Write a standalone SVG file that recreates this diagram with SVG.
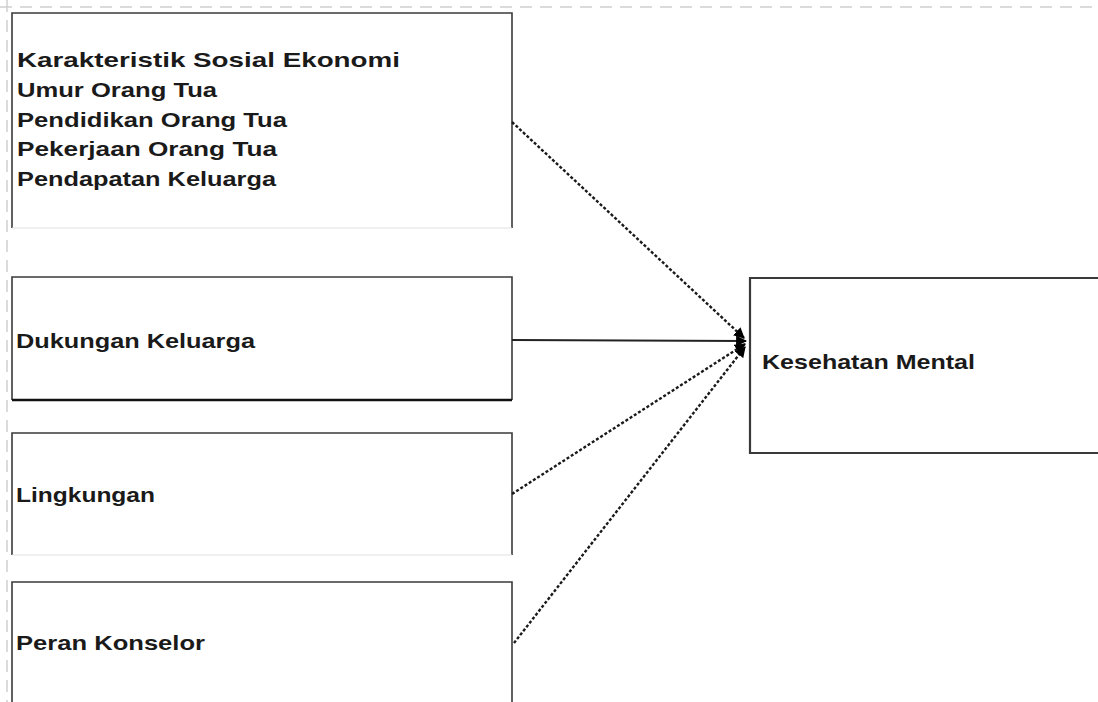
<svg xmlns="http://www.w3.org/2000/svg" width="1098" height="702" viewBox="0 0 1098 702">
<defs>
<marker id="arr" viewBox="0 0 10 10" refX="9" refY="5" markerWidth="11" markerHeight="11" orient="auto" markerUnits="userSpaceOnUse">
<path d="M0,0 L10,5 L0,10 z" fill="#000"/>
</marker>
<style>
.box{fill:#fff;stroke:#3a3a3a;stroke-width:1.6}
.lite{stroke:#e2e2e2;stroke-width:1.2}
.dark{stroke:#111;stroke-width:2.5}
.lbl{font-family:"Liberation Sans",Arial,sans-serif;font-size:21px;font-weight:bold;fill:#1a1a1a}
.guide{stroke:#d0d0d0;stroke-width:1.5;stroke-dasharray:12 8;fill:none}
.dash{stroke:#1a1a1a;stroke-width:2.4;stroke-dasharray:3 2;fill:none;marker-end:url(#arr)}
.solid{stroke:#222;stroke-width:2;fill:none;marker-end:url(#arr)}
</style>
</defs>
<rect width="1098" height="702" fill="#fff"/>
<line class="guide" x1="0" y1="7" x2="1098" y2="7"/>
<line class="guide" x1="7" y1="0" x2="7" y2="702"/>

<g id="node-sosial-ekonomi">
<rect x="12" y="13" width="500" height="215" fill="#fff" stroke="none"/>
<polyline class="box" fill="none" points="12,228 12,13 512,13 512,228"/>
<line class="lite" x1="12" y1="228" x2="512" y2="228"/>
<text class="lbl" x="17" y="67" textLength="383" lengthAdjust="spacingAndGlyphs">Karakteristik Sosial Ekonomi</text>
<text class="lbl" x="17" y="97" textLength="200" lengthAdjust="spacingAndGlyphs">Umur Orang Tua</text>
<text class="lbl" x="17" y="127" textLength="270" lengthAdjust="spacingAndGlyphs">Pendidikan Orang Tua</text>
<text class="lbl" x="17" y="156" textLength="260" lengthAdjust="spacingAndGlyphs">Pekerjaan Orang Tua</text>
<text class="lbl" x="17" y="186" textLength="259" lengthAdjust="spacingAndGlyphs">Pendapatan Keluarga</text>
</g>

<g id="node-dukungan">
<rect x="12" y="277" width="500" height="123" fill="#fff" stroke="none"/>
<polyline class="box" fill="none" points="12,400 12,277 512,277 512,400"/>
<line class="dark" x1="12" y1="400" x2="512" y2="400"/>
<text class="lbl" x="16" y="348" textLength="239" lengthAdjust="spacingAndGlyphs">Dukungan Keluarga</text>
</g>

<g id="node-lingkungan">
<rect x="12" y="433" width="500" height="122" fill="#fff" stroke="none"/>
<polyline class="box" fill="none" points="12,555 12,433 512,433 512,555"/>
<line class="lite" x1="12" y1="555" x2="512" y2="555"/>
<text class="lbl" x="16" y="502" textLength="139" lengthAdjust="spacingAndGlyphs">Lingkungan</text>
</g>

<g id="node-konselor">
<rect x="12" y="582" width="500" height="130" fill="#fff" stroke="none"/>
<polyline class="box" fill="none" points="12,702 12,582 512,582 512,702"/>
<text class="lbl" x="16" y="650" textLength="189" lengthAdjust="spacingAndGlyphs">Peran Konselor</text>
</g>

<g id="node-kesehatan-mental">
<rect x="750" y="278" width="360" height="175" fill="#fff" stroke="none"/>
<polyline class="box" fill="none" points="1098,278 750,278 750,453 1098,453" style="stroke-width:2.2"/>
<text class="lbl" x="762" y="369" textLength="213" lengthAdjust="spacingAndGlyphs">Kesehatan Mental</text>
</g>

<g id="connectors">
<line class="dash" x1="512" y1="122" x2="744" y2="338"/>
<line class="solid" x1="512" y1="340" x2="746" y2="341"/>
<line class="dash" x1="512" y1="494" x2="745" y2="344"/>
<line class="dash" x1="514" y1="643" x2="745" y2="347"/>
</g>
</svg>
